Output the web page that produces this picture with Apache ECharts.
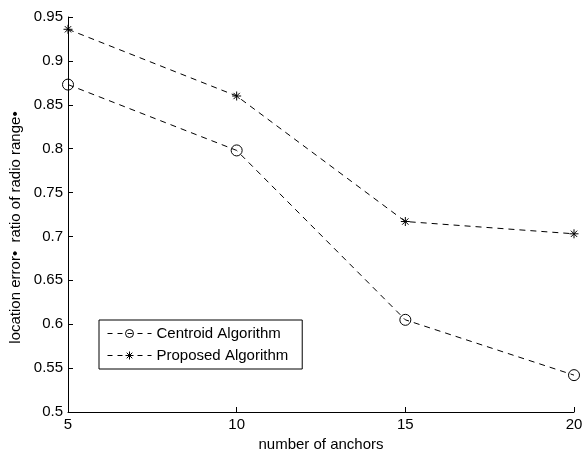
<!DOCTYPE html>
<html>
<head>
<meta charset="utf-8">
<script src="https://cdn.jsdelivr.net/npm/echarts@6/dist/echarts.min.js"></script>
<style>
  html, body { margin: 0; padding: 0; background: #fff; }
  #main { width: 583px; height: 455px; }
</style>
</head>
<body>
<div id="main"></div>
<script>
// 数据
var anchors = [5, 10, 15, 20];
var centroid = [0.873, 0.798, 0.605, 0.542];
var proposed = [0.936, 0.860, 0.717, 0.703];

// 星号标记（+ 和 x 叠加）
var starPath = 'path://M0,-10L0,10M-10,0L10,0M-7,-7L7,7M-7,7L7,-7';

function pairs(xs, ys) {
  return xs.map(function (x, i) { return [x, ys[i]]; });
}

var chart = echarts.init(document.getElementById('main'));

var option = {
  animation: false,
  textStyle: { fontFamily: 'Liberation Sans, Arial, sans-serif' },
  grid: { left: 68, right: 9, top: 17, bottom: 43, containLabel: false, outerBoundsMode: 'none' },
  legend: {
    orient: 'vertical',
    left: 99,
    top: 320,
    itemWidth: 44,
    itemHeight: 10,
    itemGap: 7,
    padding: [6, 14, 6, 8],
    borderColor: '#000',
    borderWidth: 1,
    backgroundColor: '#fff',
    textStyle: { color: '#000', fontSize: 15 },
    itemStyle: { borderWidth: 1 },
    lineStyle: { width: 1, type: [5, 5] },
    data: ['Centroid Algorithm', 'Proposed Algorithm']
  },
  xAxis: {
    type: 'value',
    min: 5,
    max: 20,
    interval: 5,
    name: 'number of anchors',
    nameLocation: 'middle',
    nameGap: 24,
    nameTextStyle: { color: '#000', fontSize: 15 },
    axisLine: { lineStyle: { color: '#000' } },
    axisTick: { inside: true, length: 5, lineStyle: { color: '#000' } },
    axisLabel: { color: '#000', fontSize: 15, margin: 5 },
    splitLine: { show: false }
  },
  yAxis: {
    type: 'value',
    min: 0.5,
    max: 0.95,
    interval: 0.05,
    name: 'location error\u2022  ratio of radio range\u2022',
    nameLocation: 'middle',
    nameGap: 42,
    nameTextStyle: { color: '#000', fontSize: 15, padding: [0, 26, 0, 0] },
    axisLine: { show: true, lineStyle: { color: '#000' } },
    axisTick: { show: true, inside: true, length: 5, lineStyle: { color: '#000' } },
    axisLabel: {
      color: '#000', fontSize: 15, margin: 5,
      formatter: function (v) { return String(+v.toFixed(2)); }
    },
    splitLine: { show: false }
  },
  series: [
    {
      name: 'Centroid Algorithm',
      type: 'line',
      data: pairs(anchors, centroid),
      symbol: 'circle',
      symbolSize: 11,
      lineStyle: { color: '#000', width: 1, type: [6, 5] },
      itemStyle: { color: 'none', borderColor: '#000', borderWidth: 1 }
    },
    {
      name: 'Proposed Algorithm',
      type: 'line',
      data: pairs(anchors, proposed),
      symbol: starPath,
      symbolSize: 9,
      lineStyle: { color: '#000', width: 1, type: [6, 5] },
      itemStyle: { color: 'none', borderColor: '#000', borderWidth: 1 }
    }
  ]
};

chart.setOption(option);
</script>
</body>
</html>
